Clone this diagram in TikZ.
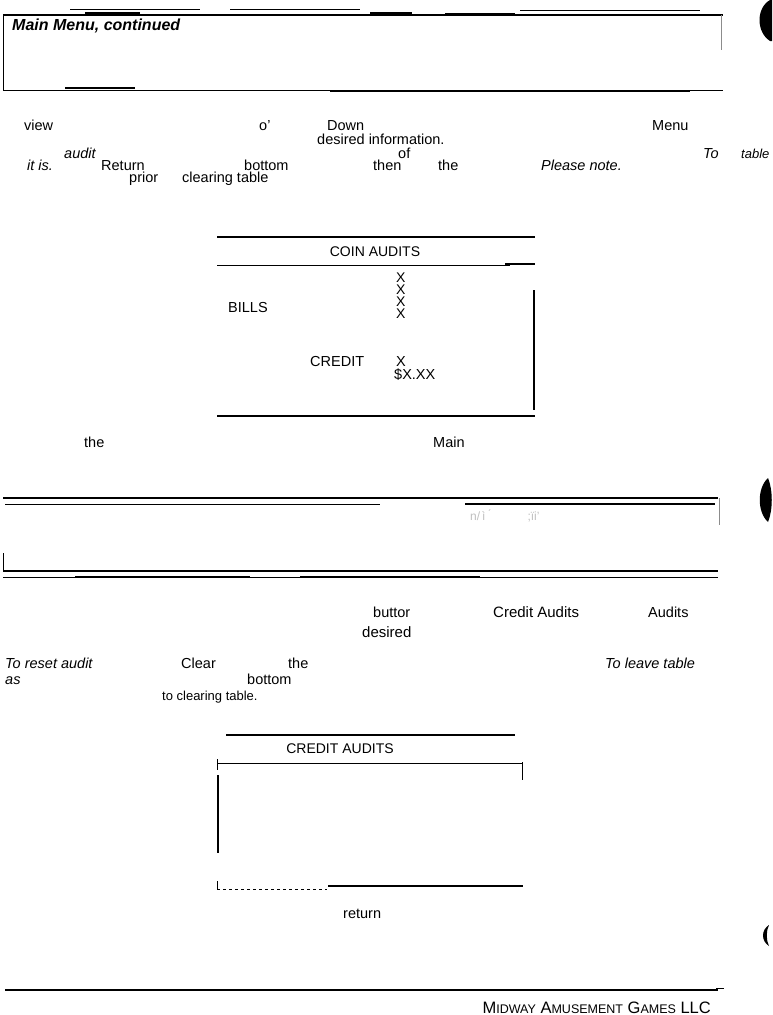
\documentclass[tikz,border=0pt]{standalone}
\usepackage{fontspec}
\setmainfont{Liberation Sans}
\begin{document}
\begin{tikzpicture}[x=1pt,y=-1pt,
  txt/.style={anchor=base west,inner sep=0pt,font=\fontsize{14.5}{16}\selectfont},
  itxt/.style={anchor=base west,inner sep=0pt,font=\fontsize{14.5}{16}\selectfont\itshape},
  ctxt/.style={anchor=base,inner sep=0pt,font=\fontsize{14}{16}\selectfont},
  heavy/.style={line width=2pt},
  medium/.style={line width=1.2pt},
  light/.style={line width=0.7pt},
  ghost/.style={line width=0.5pt,black!45},
  blot/.style={fill=black}]
\useasboundingbox (0,0) rectangle (772,1015);
% ---------- header box 1 ----------
\draw[medium] (3,15) -- (723,15);
\draw[heavy] (85,13) -- (140,13) (370,13) -- (412,13) (445,14) -- (515,14);
\draw[light] (70,9) -- (200,9) (230,9) -- (360,9) (520,10) -- (700,10);
\draw[light] (3,15) -- (3,91);
\draw[ghost] (721,15) -- (721,50);
\draw[light] (3,90) -- (723,90);
\draw[medium] (330,91) -- (690,91) (65,88) -- (135,88);
\node[anchor=base west,inner sep=0pt,font=\fontsize{16}{18}\selectfont\bfseries\itshape] (h1) at (12,30) {Main Menu, continued};
% ---------- paragraph 1 ----------
\node[txt] (p1a) at (24,130) {view};
\node[txt] (p1b) at (259,130) {o'};
\node[txt] (p1c) at (327,130) {Down};
\node[txt] (p1d) at (652,130) {Menu};
\node[txt] (p1e) at (317,144) {desired information.};
\node[itxt] (p1f) at (64,158) {audit};
\node[txt] (p1g) at (398,158.5) {of};
\node[itxt] (p1h) at (703,158) {To};
\node[anchor=base west,inner sep=0pt,font=\fontsize{13}{15}\selectfont\itshape] (p1i) at (741,158) {table};
\node[itxt] (p1j) at (27,170) {it is.};
\node[txt] (p1k) at (101,170) {Return};
\node[txt] (p1l) at (244,170) {bottom};
\node[txt] (p1m) at (373,170) {then};
\node[txt] (p1n) at (438,170) {the};
\node[itxt] (p1o) at (541,170) {Please note.};
\node[txt] (p1p) at (129,182) {prior};
\node[txt] (p1q) at (182,182) {clearing table};
% ---------- table 1 ----------
\draw[heavy] (217,237) -- (535,237);
\node[ctxt] (t1h) at (375,256) {COIN AUDITS};
\draw[light] (217,265) -- (510,265);
\draw[medium] (505,264) -- (535,264);
\draw[medium] (534,290) -- (534,410);
\node[anchor=north west,inner sep=0pt,align=left,font=\fontsize{14}{12}\selectfont] (xs) at (396,273) {X\\X\\X\\X};
\node[txt] (bills) at (228,312) {BILLS};
\node[txt] (credit) at (310,366) {CREDIT};
\node[txt] (x5) at (396,366) {X};
\node[txt] (dol) at (394,379) {\$X.XX};
\draw[heavy] (217,416) -- (535,416);
% ---------- after table 1 ----------
\node[txt] (p2a) at (84,447) {the};
\node[txt] (p2b) at (433,447) {Main};
% ---------- header box 2 ----------
\draw[heavy] (3,498) -- (718,498);
\draw[light] (5,504) -- (380,504);
\draw[heavy] (465,504) -- (715,504);
\draw[ghost] (719,498) -- (719,525);
\node[anchor=base west,inner sep=0pt,font=\fontsize{12}{14}\selectfont,black!25] (ghosttxt) at (470,520) {n/\,\`i\,\'{}  \ \ \ \ \ \ \ \ \ \ ;{\"i}i'};
\draw[light] (3,553) -- (3,571);
\draw[heavy] (3,571) -- (718,571);
\draw[light] (3,577) -- (718,577);
\draw[heavy] (75,577) -- (250,577) (300,577) -- (480,577);
% ---------- paragraph 2 ----------
\node[txt] (q1) at (373,617) {buttor};
\node[anchor=base west,inner sep=0pt,font=\fontsize{15}{17}\selectfont] (q2) at (493,617) {Credit Audits};
\node[txt] (q3) at (648,617) {Audits};
\node[anchor=base west,inner sep=0pt,font=\fontsize{15}{17}\selectfont] (q4) at (362,637) {desired};
\node[itxt] (q5) at (5,668) {To reset audit};
\node[txt] (q6) at (181,668) {Clear};
\node[txt] (q7) at (288,668) {the};
\node[itxt] (q8) at (605,668) {To leave table};
\node[itxt] (q9) at (5,684) {as};
\node[txt] (q10) at (247,684) {bottom};
\node[anchor=base west,inner sep=0pt,font=\fontsize{13}{15}\selectfont] (q11) at (162,700) {to clearing table.};
% ---------- table 2 ----------
\draw[heavy] (226,735) -- (515,735);
\node[ctxt] (t2h) at (340,753) {CREDIT AUDITS};
\draw[light] (217,763) -- (522,763);
\draw[light] (217,759) -- (217,770);
\draw[light] (522,762) -- (522,780);
\draw[heavy] (218,775) -- (218,853);
\draw[light,dashed] (217,889) -- (327,889);
\draw[light] (217,881) -- (217,889);
\draw[medium] (328,886) -- (523,886);
\node[txt] (ret) at (343,918) {return};
% ---------- footer ----------
\draw[medium] (5,990) -- (718,990);
\draw[light] (716,988) -- (724,988);
\node[anchor=base east,inner sep=0pt,font=\fontsize{16.5}{18}\selectfont] (foot) at (711,1013)
  {M{\fontsize{12.5}{14}\selectfont IDWAY} A{\fontsize{12.5}{14}\selectfont MUSEMENT} G{\fontsize{12.5}{14}\selectfont AMES} LLC};
% ---------- punch-hole blots ----------
\fill[blot] (770,0) .. controls (756,8) and (756,32) .. (770,41) -- (772,41) -- (772,0) -- cycle;
\fill[blot] (768,478) .. controls (757,488) and (757,512) .. (768,522) .. controls (773,510) and (773,490) .. (768,478) -- cycle;
\fill[blot] (769,925) .. controls (761,930) and (761,941) .. (769,946) .. controls (766,940) and (766,931) .. (769,925) -- cycle;
\end{tikzpicture}
\end{document}
